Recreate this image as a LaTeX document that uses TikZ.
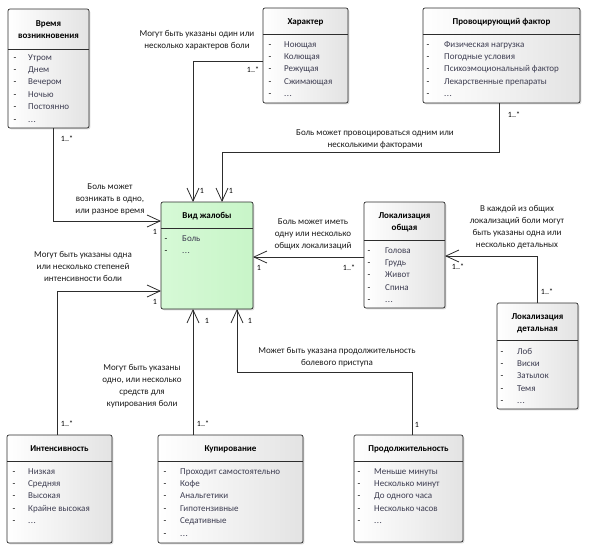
\documentclass[tikz,border=0pt]{standalone}
\usepackage{fontspec}
\setmainfont{Carlito}
\usetikzlibrary{arrows.meta,shadows}
\definecolor{bordc}{RGB}{45,45,45}
\definecolor{itemc}{RGB}{60,60,80}
\definecolor{labc}{RGB}{25,25,25}
\definecolor{gL}{RGB}{214,249,214}
\definecolor{gR}{RGB}{200,245,200}
\newcommand\myell{.\kern0.5pt.\kern0.5pt.}
\newcommand\boxitems[5]{%
  \foreach \t [count=\i] in {#5} {
    \node[dashn] (#1d\i) at (#2, #4+\i*12.4-12.4+3) {-};
    \node[itemn] (#1t\i) at (#3, #4+\i*12.4-12.4+3) {\t};
  }}
\begin{document}
\begin{tikzpicture}[x=1pt,y=-1pt,
  umlbox/.style={draw=bordc, line width=0.7pt, rounded corners=2pt,
    left color=white, right color=black!11,
    drop shadow={shadow xshift=1.3pt, shadow yshift=-1.3pt, opacity=0.3},
    inner sep=0pt, outer sep=0pt, anchor=north west},
  greenbox/.style={umlbox, left color=gL, right color=gR},
  hline/.style={draw=bordc, line width=0.7pt},
  titlen/.style={font=\fontsize{9}{12}\selectfont\bfseries, align=center, inner sep=0pt, text=black},
  dashn/.style={font=\fontsize{9}{12}\selectfont, inner sep=0pt, anchor=base, text=black},
  itemn/.style={font=\fontsize{9}{12}\selectfont, inner sep=0pt, anchor=base west, text=itemc},
  labn/.style={font=\fontsize{9}{12}\selectfont, align=center, inner sep=0pt, text=labc},
  multn/.style={font=\fontsize{8}{10}\selectfont, inner sep=0pt, text=black},
  assoc/.style={draw=bordc, line width=0.8pt, -{Straight Barb[length=13pt,width=12pt,line width=0.8pt]}}
]
\useasboundingbox (0,0) rectangle (591,554);

\coordinate (y49) at (0,49);
\coordinate (y34) at (0,34);
\coordinate (y228) at (0,228);
\coordinate (y240) at (0,240);
\coordinate (y340) at (0,340);
\coordinate (y461) at (0,461);

% ---------- boxes ----------
\node[umlbox, minimum width=81pt, minimum height=119pt] (vr) at (8,9) {};
\draw[hline] (vr.west |- y49) -- (vr.east |- y49);
\node[titlen] (vrT) at (48.5,30) {Время\\возникновения};
\boxitems{vr}{15}{28}{57}{Утром,Днем,Вечером,Ночью,Постоянно,\myell}

\node[umlbox, minimum width=85pt, minimum height=95pt] (ch) at (263,8) {};
\draw[hline] (ch.west |- y34) -- (ch.east |- y34);
\node[titlen] (chT) at (305.5,22) {Характер};
\boxitems{ch}{270}{284}{44}{Ноющая,Колющая,Режущая,Сжимающая,\myell}

\node[umlbox, minimum width=157pt, minimum height=95pt] (pf) at (423,8) {};
\draw[hline] (pf.west |- y34) -- (pf.east |- y34);
\node[titlen] (pfT) at (501.5,22) {Провоцирующий фактор};
\boxitems{pf}{428}{444}{44}{Физическая нагрузка,Погодные условия,Психоэмоциональный фактор,Лекарственные препараты,\myell}

\node[greenbox, minimum width=92pt, minimum height=107pt] (vj) at (161,202) {};
\draw[hline] (vj.west |- y228) -- (vj.east |- y228);
\node[titlen] (vjT) at (207,216) {Вид жалобы};
\boxitems{vj}{166}{182}{238}{Боль,\myell}

\node[umlbox, minimum width=81pt, minimum height=106pt] (lo) at (364,202) {};
\draw[hline] (lo.west |- y240) -- (lo.east |- y240);
\node[titlen] (loT) at (404.5,222) {Локализация\\общая};
\boxitems{lo}{369}{385}{250}{Голова,Грудь,Живот,Спина,\myell}

\node[umlbox, minimum width=81pt, minimum height=106pt] (ld) at (497,303) {};
\draw[hline] (ld.west |- y340) -- (ld.east |- y340);
\node[titlen] (ldT) at (537.5,323) {Локализация\\детальная};
\boxitems{ld}{502}{517}{351}{Лоб,Виски,Затылок,Темя,\myell}

\node[umlbox, minimum width=105pt, minimum height=108pt] (in) at (7,435) {};
\draw[hline] (in.west |- y461) -- (in.east |- y461);
\node[titlen] (inT) at (59.5,449) {Интенсивность};
\boxitems{in}{14}{28}{471}{Низкая,Средняя,Высокая,Крайне высокая,\myell}

\node[umlbox, minimum width=145pt, minimum height=108pt] (ku) at (158,435) {};
\draw[hline] (ku.west |- y461) -- (ku.east |- y461);
\node[titlen] (kuT) at (230.5,449) {Купирование};
\boxitems{ku}{165}{180}{471}{Проходит самостоятельно,Кофе,Анальгетики,Гипотензивные,Седативные,\myell}

\node[umlbox, minimum width=109pt, minimum height=107pt] (pr) at (354,435) {};
\draw[hline] (pr.west |- y461) -- (pr.east |- y461);
\node[titlen] (prT) at (408.5,449) {Продолжительность};
\boxitems{pr}{359}{374}{471}{Меньше минуты,Несколько минут,До одного часа,Несколько часов,\myell}

% ---------- connectors ----------
\coordinate (vrB) at (53,221);
\coordinate (chB) at (193,61);
\coordinate (pfB) at (499,152);
\coordinate (pfA) at (222,152);
\coordinate (loB) at (0,257);
\coordinate (ldB) at (537,256);
\coordinate (inB) at (57,291);
\coordinate (kuB) at (193,0);
\coordinate (prB) at (412,372);
\coordinate (prA) at (237,372);

\draw[assoc] (vr.south -| vrB) |- (vj.west |- vrB);
\draw[assoc] (ch.west |- chB) -| (vj.north -| chB);
\draw[assoc] (pf.south -| pfB) -- (pfB) -- (pfA) -- (vj.north -| pfA);
\draw[assoc] (lo.west |- loB) -- (vj.east |- loB);
\draw[assoc] (ld.north -| ldB) |- (lo.east |- ldB);
\draw[assoc] (in.north -| inB) |- (vj.west |- inB);
\draw[assoc] (ku.north -| kuB) -- (vj.south -| kuB);
\draw[assoc] (pr.north -| prB) -- (prB) -- (prA) -- (vj.south -| prA);

% ---------- multiplicities ----------
\node[multn] (m1) at (67,139) {1..*};
\node[multn] (m2) at (155,232) {1};
\node[multn] (m3) at (253,70) {1..*};
\node[multn] (m4) at (202,191) {1};
\node[multn] (m5) at (231,191) {1};
\node[multn] (m6) at (514,115) {1..*};
\node[multn] (m7) at (259,268) {1};
\node[multn] (m8) at (349,268) {1..*};
\node[multn] (m9) at (458,267) {1..*};
\node[multn] (m10) at (547,292) {1..*};
\node[multn] (m11) at (155,302) {1};
\node[multn] (m12) at (67,424) {1..*};
\node[multn] (m13) at (207,321) {1};
\node[multn] (m14) at (203,424) {1..*};
\node[multn] (m15) at (250,321) {1};
\node[multn] (m16) at (417,425) {1};

% ---------- labels ----------
\node[labn] (la) at (110,199) {Боль может\\возникать в одно,\\или разное время};
\node[labn] (lb) at (197,40) {Могут быть указаны один или\\несколько характеров боли};
\node[labn] (lc) at (375,139) {Боль может провоцироваться одним или\\несколькими факторами};
\node[labn] (ld2) at (313,234) {Боль может иметь\\одну или несколько\\общих локализаций};
\node[labn] (le) at (517,227) {В каждой из общих\\локализаций боли могут\\быть указаны одна или\\несколько детальных};
\node[labn] (lf) at (83,266) {Могут быть указаны одна\\или несколько степеней\\интенсивности боли};
\node[labn] (lg) at (142,386) {Могут быть указаны\\одно, или несколько\\средств для\\купирования боли};
\node[labn] (lh) at (337,357) {Может быть указана продолжительность\\болевого приступа};
\end{tikzpicture}
\end{document}
